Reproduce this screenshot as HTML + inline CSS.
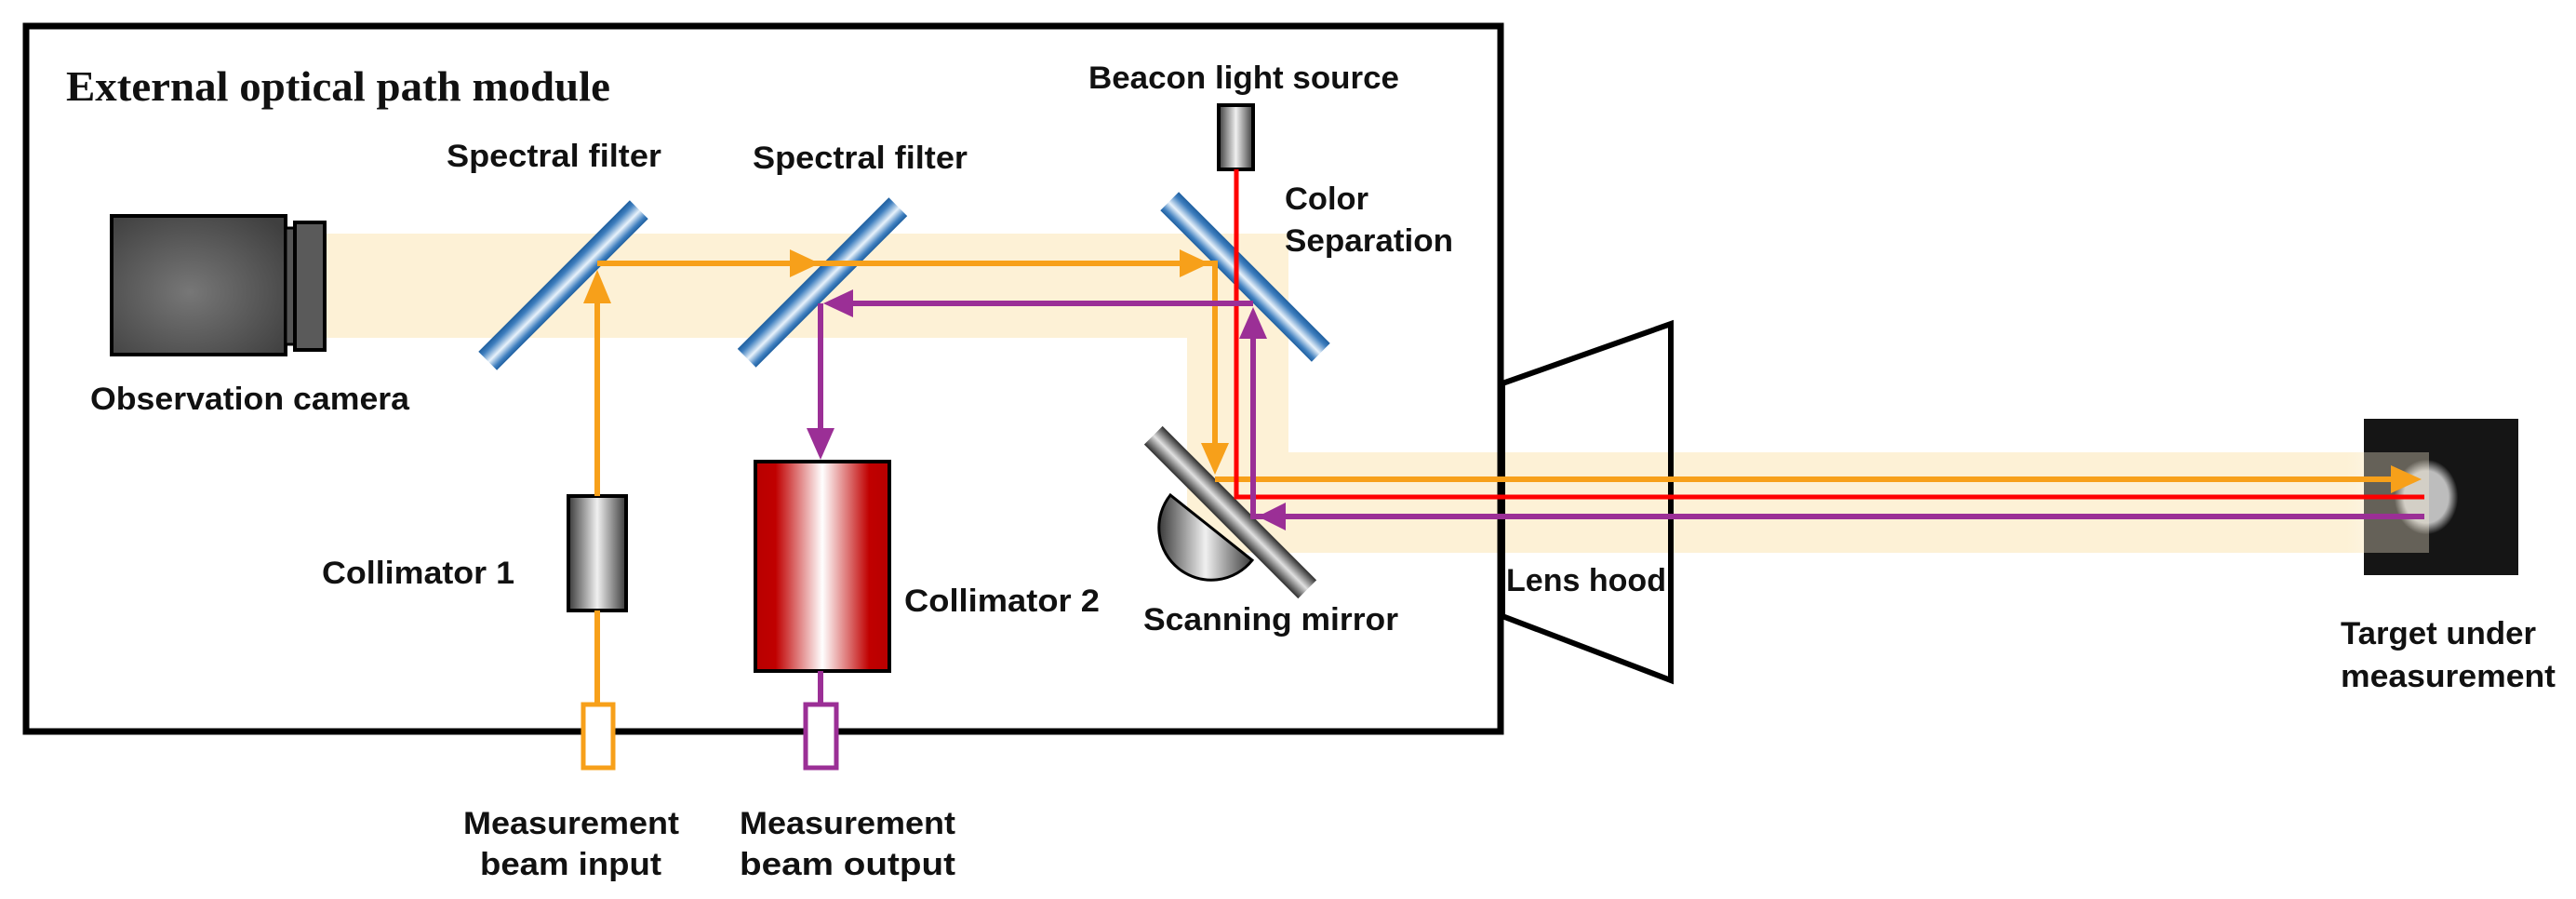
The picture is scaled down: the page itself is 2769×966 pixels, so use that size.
<!DOCTYPE html>
<html><head><meta charset="utf-8"><style>html,body{margin:0;padding:0;background:#fff}svg{display:block}</style></head>
<body>
<svg width="2769" height="966" viewBox="0 0 2769 966" xmlns="http://www.w3.org/2000/svg">
<defs>
<linearGradient id="blue" x1="0" y1="0" x2="0" y2="1">
<stop offset="0" stop-color="#1f5f9f"/><stop offset="0.2" stop-color="#3f7fbf"/><stop offset="0.55" stop-color="#e8f2fb"/><stop offset="0.85" stop-color="#3f7fbf"/><stop offset="1" stop-color="#1f5f9f"/></linearGradient>
<linearGradient id="grey" x1="0" y1="0" x2="0" y2="1">
<stop offset="0" stop-color="#2e2e2e"/><stop offset="0.5" stop-color="#e0e0e0"/><stop offset="1" stop-color="#2e2e2e"/></linearGradient>
<linearGradient id="greyh" x1="0" y1="0" x2="1" y2="0">
<stop offset="0" stop-color="#3a3a3a"/><stop offset="0.5" stop-color="#f0f0f0"/><stop offset="1" stop-color="#3a3a3a"/></linearGradient>
<linearGradient id="red" x1="0" y1="0" x2="1" y2="0">
<stop offset="0" stop-color="#b80000"/><stop offset="0.15" stop-color="#c00000"/><stop offset="0.5" stop-color="#fff"/><stop offset="0.85" stop-color="#c00000"/><stop offset="1" stop-color="#b80000"/></linearGradient>
<radialGradient id="cam" cx="0.45" cy="0.55" r="0.7"><stop offset="0" stop-color="#777"/><stop offset="1" stop-color="#3f3f3f"/></radialGradient>
<radialGradient id="spot" cx="0.5" cy="0.5" r="0.5"><stop offset="0.7" stop-color="#bdbdbd"/><stop offset="1" stop-color="#1a1a1a"/></radialGradient>
<linearGradient id="band" x1="0" y1="0" x2="1" y2="0"><stop offset="0.93" stop-color="#fdf1d6"/><stop offset="1" stop-color="#fdf1d6" stop-opacity="0"/></linearGradient>
</defs>

<rect x="349" y="251" width="1036" height="112" fill="#fdf1d6"/>
<rect x="1276" y="251" width="109" height="342" fill="#fdf1d6"/>
<rect x="1276" y="486" width="1340" height="108" fill="url(#band)"/>

<rect x="28" y="28" width="1585" height="758" fill="none" stroke="#000" stroke-width="7"/>

<polygon points="1615,412 1796,348 1796,731 1615,662" fill="none" stroke="#000" stroke-width="6"/>

<rect x="2541" y="450" width="166" height="168" fill="#151515"/>
<ellipse cx="2608" cy="534" rx="34" ry="40" fill="url(#spot)"/>
<rect x="2541" y="486" width="70" height="108" fill="#fdf1d6" opacity="0.35"/>

<rect x="120" y="232" width="187" height="149" fill="url(#cam)" stroke="#000" stroke-width="4"/>
<rect x="307" y="245" width="10" height="125" fill="#555" stroke="#000" stroke-width="3"/>
<rect x="317" y="239" width="32" height="137" fill="#5a5a5a" stroke="#000" stroke-width="4"/>

<rect x="-115" y="-14" width="230" height="28" fill="url(#blue)" transform="translate(605.5,306.5) rotate(-45)"/>
<rect x="-115" y="-14" width="230" height="28" fill="url(#blue)" transform="translate(884,303.5) rotate(-45)"/>
<rect x="-115" y="-14" width="230" height="28" fill="url(#blue)" transform="translate(1338.5,297.5) rotate(45)"/>
<path d="M1258,532 A52,52 0 0 0 1346,602 Z" fill="url(#greyh)" stroke="#000" stroke-width="3"/>
<rect x="-117" y="-14" width="234" height="28" fill="url(#grey)" transform="translate(1322.5,550.5) rotate(45)"/>

<rect x="1310" y="113" width="37" height="69" fill="url(#greyh)" stroke="#000" stroke-width="4"/>

<rect x="611" y="533" width="62" height="123" fill="url(#greyh)" stroke="#000" stroke-width="4"/>
<rect x="812" y="496" width="144" height="225" fill="url(#red)" stroke="#000" stroke-width="4"/>

<line x1="642" y1="656" x2="642" y2="755" stroke="#f7a01a" stroke-width="6"/>
<rect x="627" y="757" width="32" height="68" fill="#fff" stroke="#f7a01a" stroke-width="5"/>
<line x1="882" y1="721" x2="882" y2="755" stroke="#9b2f96" stroke-width="6"/>
<rect x="866" y="757" width="33" height="68" fill="#fff" stroke="#9b2f96" stroke-width="5"/>

<g stroke="#f7a01a" stroke-width="6" fill="none">
<line x1="642" y1="533" x2="642" y2="320"/>
<polyline points="642,283 1306,283 1306,480"/>
<polyline points="1306,515 2575,515"/>
</g>
<g fill="#f7a01a">
<polygon points="642,290 627,326 657,326"/>
<polygon points="881,283 849,268 849,298"/>
<polygon points="1300,283 1268,268 1268,298"/>
<polygon points="1306,510 1291,476 1321,476"/>
<polygon points="2603,515 2570,500 2570,530"/>
</g>

<polyline points="1329,182 1329,534 2606,534" fill="none" stroke="#ff0000" stroke-width="5"/>

<g stroke="#9b2f96" stroke-width="6" fill="none">
<polyline points="2606,555 1347,555 1347,360"/>
<polyline points="1347,326 915,326"/>
<polyline points="882,326 882,465"/>
</g>
<g fill="#9b2f96">
<polygon points="1352,555 1382,540 1382,570"/>
<polygon points="1347,330 1332,364 1362,364"/>
<polygon points="885,326 917,311 917,341"/>
<polygon points="882,494 867,460 897,460"/>
</g>

<g font-family="'Liberation Serif', serif" font-weight="bold" fill="#111">
<text x="71" y="108" font-size="46" textLength="585" lengthAdjust="spacingAndGlyphs">External optical path module</text>
</g>
<g font-family="'Liberation Sans', sans-serif" font-weight="bold" fill="#111" font-size="34">
<text x="1170" y="95" textLength="334" lengthAdjust="spacingAndGlyphs">Beacon light source</text>
<text x="480" y="179" textLength="231" lengthAdjust="spacingAndGlyphs">Spectral filter</text>
<text x="809" y="181" textLength="231" lengthAdjust="spacingAndGlyphs">Spectral filter</text>
<text x="1381" y="225" textLength="90" lengthAdjust="spacingAndGlyphs">Color</text>
<text x="1381" y="270" textLength="181" lengthAdjust="spacingAndGlyphs">Separation</text>
<text x="97" y="440" textLength="343" lengthAdjust="spacingAndGlyphs">Observation camera</text>
<text x="346" y="627" textLength="207" lengthAdjust="spacingAndGlyphs">Collimator 1</text>
<text x="972" y="657" textLength="210" lengthAdjust="spacingAndGlyphs">Collimator 2</text>
<text x="1229" y="677" textLength="274" lengthAdjust="spacingAndGlyphs">Scanning mirror</text>
<text x="1619" y="635" textLength="172" lengthAdjust="spacingAndGlyphs">Lens hood</text>
<text x="2516" y="692" textLength="210" lengthAdjust="spacingAndGlyphs">Target under</text>
<text x="2516" y="738" textLength="231" lengthAdjust="spacingAndGlyphs">measurement</text>
<text x="498" y="896" textLength="232" lengthAdjust="spacingAndGlyphs">Measurement</text>
<text x="516" y="940" textLength="195" lengthAdjust="spacingAndGlyphs">beam input</text>
<text x="795" y="896" textLength="232" lengthAdjust="spacingAndGlyphs">Measurement</text>
<text x="795" y="940" textLength="232" lengthAdjust="spacingAndGlyphs">beam output</text>
</g>
</svg>
</body></html>
